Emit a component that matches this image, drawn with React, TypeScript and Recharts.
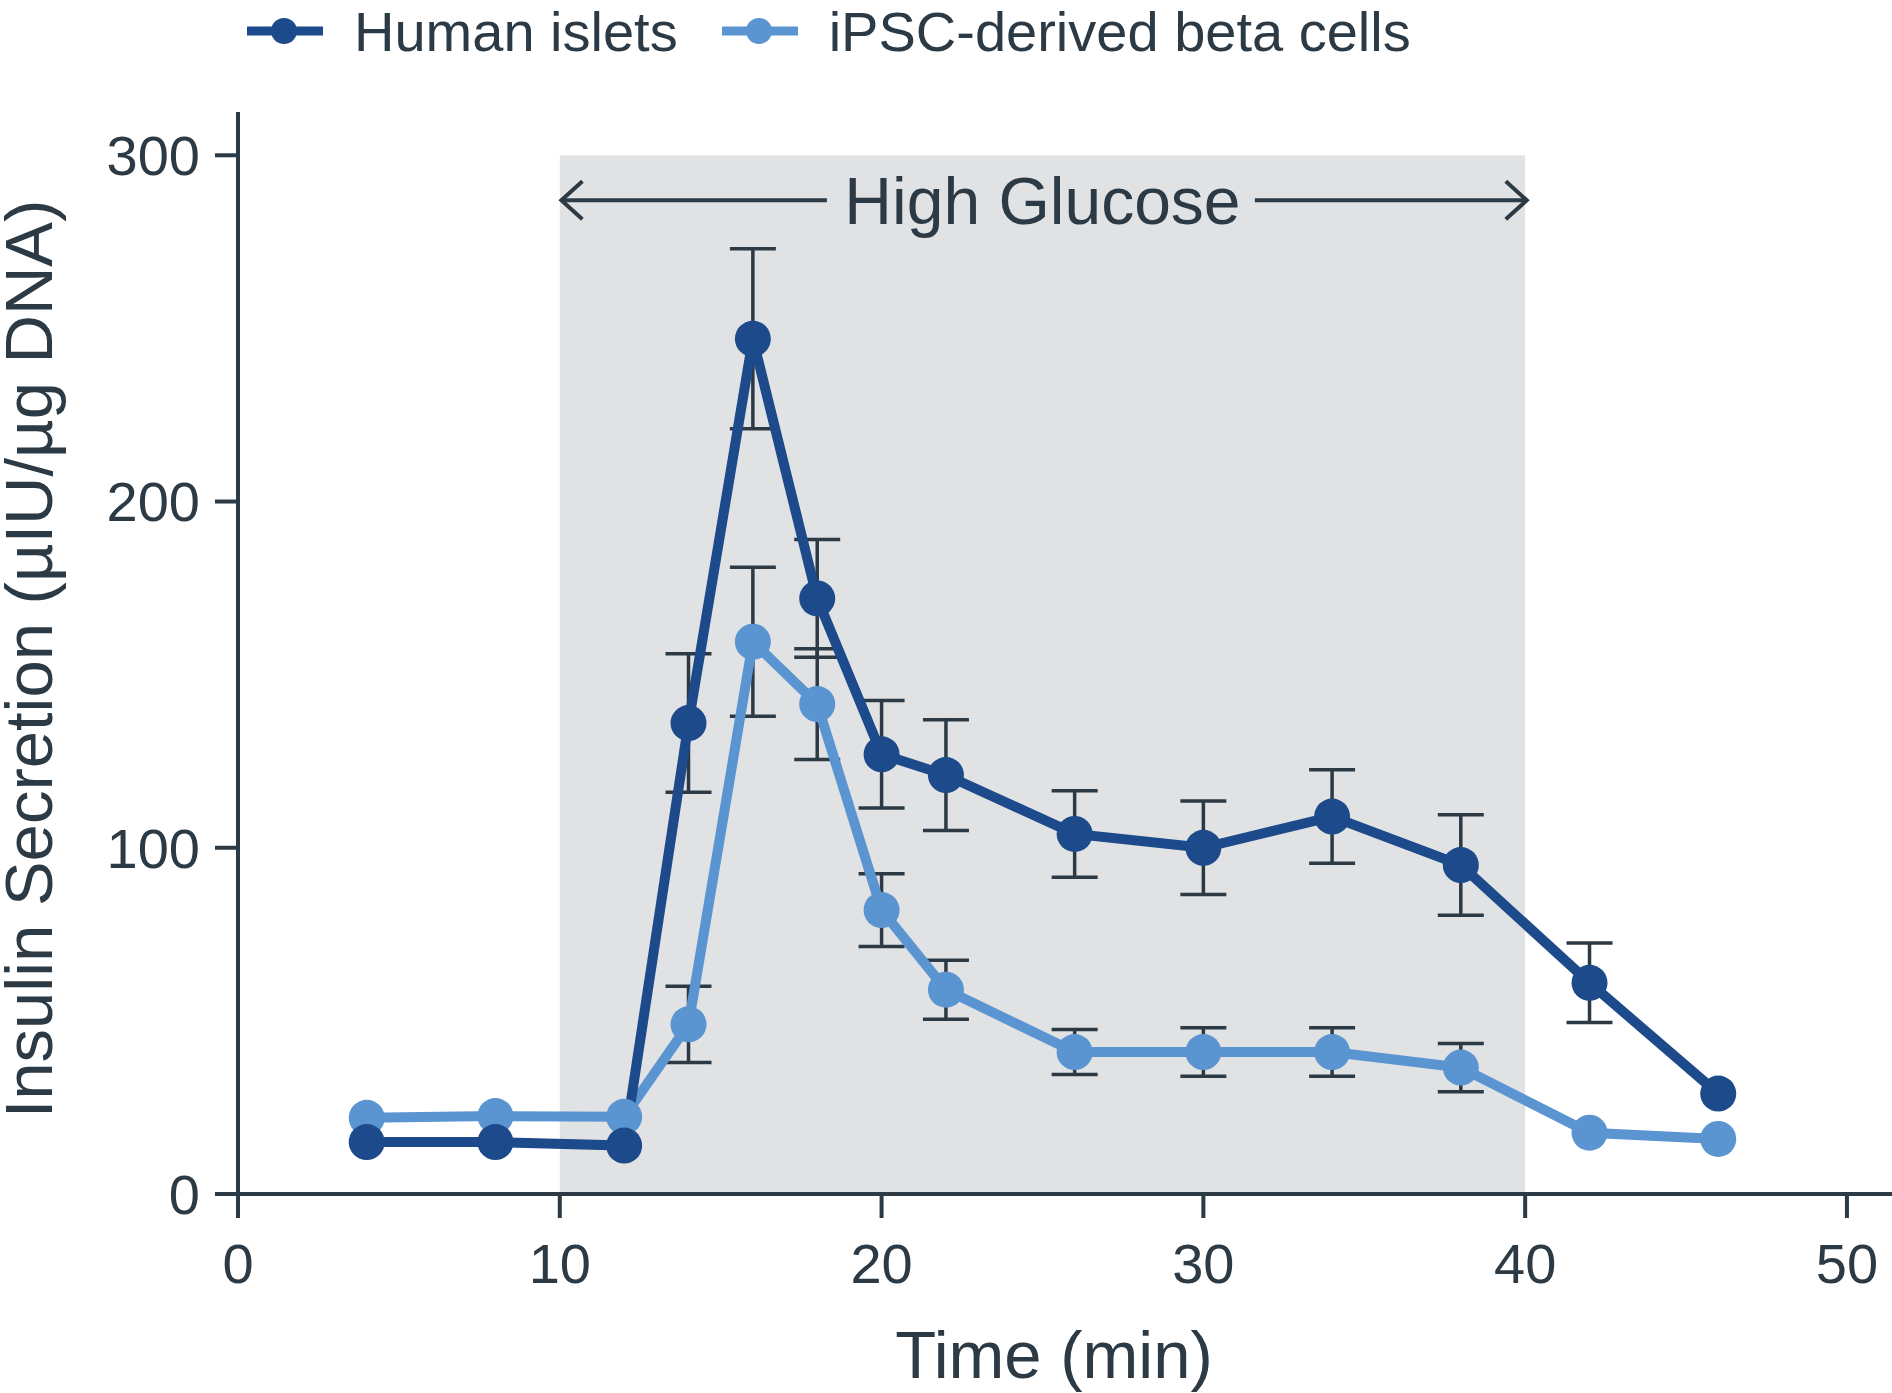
import React from 'react';
import {
  LineChart,
  Line,
  XAxis,
  YAxis,
  ErrorBar,
  ReferenceArea,
  ReferenceLine,
  ReferenceDot,
} from 'recharts';

const timeMin = [4, 8, 12, 14, 16, 18, 20, 22, 26, 30, 34, 38, 42, 46];
const humanIslets = [15, 15, 14, 136, 247, 172, 127, 121, 104, 100, 109, 95, 61, 29];
const humanIsletsErr = [0, 0, 0, 20, 26, 17, 15.5, 16, 12.5, 13.5, 13.5, 14.5, 11.5, 0];
const ipscBeta = [22, 22.5, 22.3, 49, 159.5, 141.5, 82, 59, 41, 41, 41, 36.5, 17.7, 15.9];
const ipscBetaErr = [0, 0, 0, 11, 21.5, 16, 10.5, 8.5, 6.5, 7, 7, 7, 0, 0];

const xTicks = [0, 10, 20, 30, 40, 50];
const yTicks = [0, 100, 200, 300];

const DARK = '#1c4a8a';
const LIGHT = '#5a94d1';
const INK = '#2b3a45';
const SHADE = '#e1e2e4';
const FONT = '"Liberation Sans", Arial, sans-serif';

const data = timeMin.map((t, i) => ({
  time: t,
  islets: humanIslets[i],
  isletsErr: humanIsletsErr[i],
  ipsc: ipscBeta[i],
  ipscErr: ipscBetaErr[i],
}));

// line with a chevron head on one end
function arrowShape(tip: 'start' | 'end') {
  return (p: any) => {
    const { x1, y1, x2, y2 } = p;
    const tx = tip === 'start' ? x1 : x2;
    const ty = tip === 'start' ? y1 : y2;
    const d = tip === 'start' ? 21 : -21;
    return (
      <g>
        <line x1={x1} y1={y1} x2={x2} y2={y2} stroke={INK} strokeWidth={4} />
        <polyline
          points={`${tx + d},${ty - 19} ${tx},${ty} ${tx + d},${ty + 19}`}
          fill="none"
          stroke={INK}
          strokeWidth={4}
        />
      </g>
    );
  };
}

function YTitle(props: any) {
  const { viewBox } = props;
  const cx = 28;
  const cy = viewBox.y + viewBox.height / 2 + 6;
  return (
    <text
      x={cx}
      y={cy}
      transform={`rotate(-90, ${cx}, ${cy})`}
      textAnchor="middle"
      dy="0.355em"
      fill={INK}
      fontSize={67}
    >
      Insulin Secretion (µIU/µg DNA)
    </text>
  );
}

function XTitle(props: any) {
  const { viewBox } = props;
  return (
    <text
      x={1054}
      y={viewBox.y + viewBox.height - 15}
      textAnchor="middle"
      fill={INK}
      fontSize={67}
    >
      Time (min)
    </text>
  );
}

function LegendItem({ color, label }: { color: string; label: string }) {
  return (
    <div style={{ display: 'flex', alignItems: 'center' }}>
      <svg width={76} height={30} style={{ marginRight: 31 }}>
        <line x1={0} y1={15} x2={76} y2={15} stroke={color} strokeWidth={9} />
        <circle cx={37} cy={15} r={13} fill={color} />
      </svg>
      <span>{label}</span>
    </div>
  );
}

export default function App() {
  return (
    <div
      style={{
        position: 'absolute',
        left: 0,
        top: 0,
        width: 1892,
        height: 1393,
        background: '#fff',
        fontFamily: FONT,
      }}
    >
      <div
        style={{
          position: 'absolute',
          left: 247,
          top: 0,
          height: 62,
          display: 'flex',
          alignItems: 'center',
          gap: 44,
          fontSize: 56,
          color: INK,
          whiteSpace: 'nowrap',
        }}
      >
        <LegendItem color={DARK} label="Human islets" />
        <LegendItem color={LIGHT} label="iPSC-derived beta cells" />
      </div>

      <LineChart
        width={1892}
        height={1393}
        data={data}
        margin={{ top: 112, right: 0, bottom: 0, left: 0 }}
        style={{ fontFamily: FONT }}
      >
        <ReferenceArea x1={10} x2={40} y1={0} y2={300} fill={SHADE} fillOpacity={1} stroke="none" />
        <ReferenceLine
          segment={[{ x: 10.05, y: 287 }, { x: 18.3, y: 287 }]}
          shape={arrowShape('start')}
        />
        <ReferenceLine
          segment={[{ x: 31.6, y: 287 }, { x: 40.05, y: 287 }]}
          shape={arrowShape('end')}
        />
        <ReferenceDot
          x={25}
          y={287}
          r={0}
          fill="none"
          stroke="none"
          label={{ value: 'High Glucose', position: 'center', fill: INK, fontSize: 66 }}
        />
        <XAxis
          dataKey="time"
          type="number"
          domain={[0, 51.4]}
          ticks={xTicks}
          allowDataOverflow
          height={199}
          tickSize={24}
          tickMargin={25}
          axisLine={{ stroke: INK, strokeWidth: 4 }}
          tickLine={{ stroke: INK, strokeWidth: 4 }}
          tick={{ fill: INK, fontSize: 56 }}
          label={{ content: XTitle }}
        />
        <YAxis
          type="number"
          domain={[0, 312.5]}
          ticks={yTicks}
          allowDataOverflow
          width={238}
          tickSize={23}
          tickMargin={15}
          axisLine={{ stroke: INK, strokeWidth: 4 }}
          tickLine={{ stroke: INK, strokeWidth: 4 }}
          tick={{ fill: INK, fontSize: 56 }}
          label={{ content: YTitle }}
        />
        {/* error bars go on hidden lines first so the markers sit on top of them */}
        <Line
          dataKey="ipsc"
          stroke="none"
          dot={false}
          activeDot={false}
          legendType="none"
          isAnimationActive={false}
        >
          <ErrorBar dataKey="ipscErr" direction="y" width={23} strokeWidth={3.5} stroke={INK} />
        </Line>
        <Line
          dataKey="islets"
          stroke="none"
          dot={false}
          activeDot={false}
          legendType="none"
          isAnimationActive={false}
        >
          <ErrorBar dataKey="isletsErr" direction="y" width={23} strokeWidth={3.5} stroke={INK} />
        </Line>
        <Line
          dataKey="ipsc"
          stroke={LIGHT}
          strokeWidth={10}
          dot={{ r: 18, fill: LIGHT, stroke: 'none' }}
          activeDot={false}
          isAnimationActive={false}
        />
        <Line
          dataKey="islets"
          stroke={DARK}
          strokeWidth={10}
          dot={{ r: 18, fill: DARK, stroke: 'none' }}
          activeDot={false}
          isAnimationActive={false}
        />
      </LineChart>
    </div>
  );
}
